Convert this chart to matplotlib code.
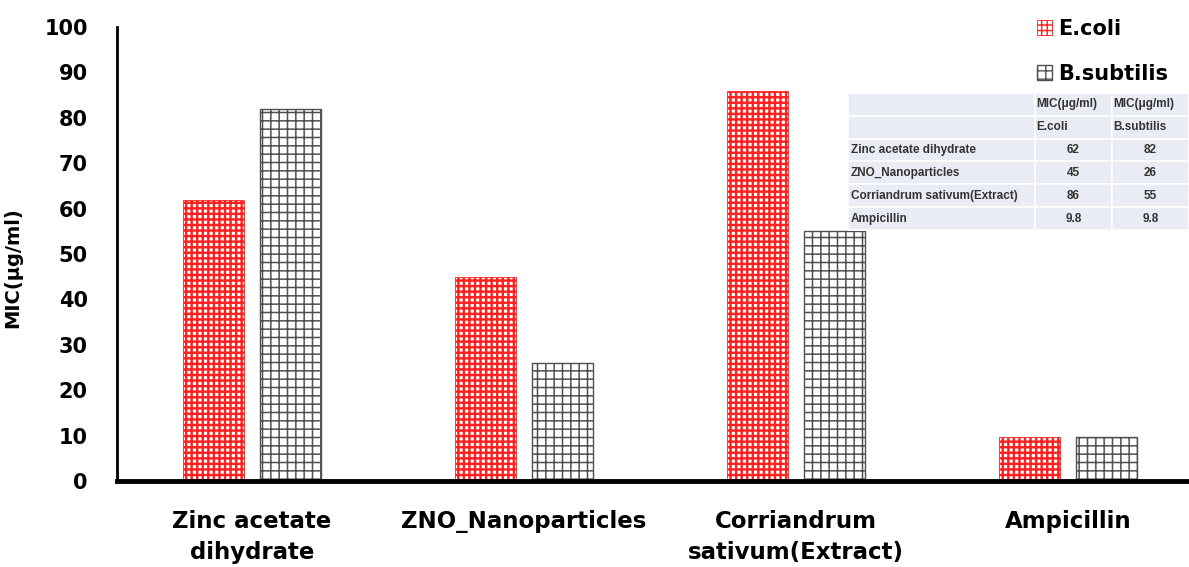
import numpy as np
import matplotlib
matplotlib.use("Agg")
import matplotlib.pyplot as plt

categories = ["Zinc acetate\ndihydrate", "ZNO_Nanoparticles", "Corriandrum\nsativum(Extract)", "Ampicillin"]
table_rows = ["Zinc acetate dihydrate", "ZNO_Nanoparticles", "Corriandrum sativum(Extract)", "Ampicillin"]
ecoli = [62, 45, 86, 9.8]
bsubtilis = [82, 26, 55, 9.8]
ecoli_txt = ["62", "45", "86", "9.8"]
bsub_txt = ["82", "26", "55", "9.8"]
yticks = list(range(0, 101, 10))

plt.rcParams['font.family'] = ['DejaVu Sans']

fig = plt.figure(figsize=(11.89, 5.67), dpi=100)
ax = fig.add_axes([117/1189, 1-481/567, 1-117/1189, 454/567])

x = np.arange(len(categories))
w = 0.225
b1 = ax.bar(x - 0.142, ecoli, w, facecolor='white', edgecolor='#ff2020', hatch='+++', linewidth=0.6, label='E.coli')
b2 = ax.bar(x + 0.143, bsubtilis, w, facecolor='white', edgecolor='#505050', hatch='++', linewidth=1.0, label='B.subtilis')
for p in b1:
    if hasattr(p, 'set_hatch_linewidth'):
        p.set_hatch_linewidth(1.7)
for p in b2:
    if hasattr(p, 'set_hatch_linewidth'):
        p.set_hatch_linewidth(1.1)

ax.set_xlim(-0.496, 3.445)
ax.set_ylim(0, 100)
ax.set_yticks(yticks)
ax.set_yticklabels([str(t) for t in yticks], fontsize=15, fontweight='bold')
ax.set_xticks(x)
ax.set_xticklabels(categories, fontsize=16.5, fontweight='bold', linespacing=1.45)
ax.tick_params(axis='y', length=0, pad=21)
ax.tick_params(axis='x', length=0, pad=21)
ax.set_ylabel("MIC(μg/ml)", fontsize=14, fontweight='bold')
ax.yaxis.set_label_coords(-0.088, 0.47)
for s in ['top', 'right']:
    ax.spines[s].set_visible(False)
ax.spines['left'].set_linewidth(2)
ax.spines['bottom'].set_linewidth(3.5)

leg = fig.legend(handles=[b1, b2], labels=['E.coli', 'B.subtilis'], loc='upper left',
                 bbox_to_anchor=(1018/1189, 1-0/567), frameon=False,
                 prop={'size': 15, 'weight': 'bold'}, handlelength=0.75, handleheight=0.75,
                 handletextpad=0.3, labelspacing=1.2)

# small data table
tax = fig.add_axes([848/1189, 1-230/567, 341/1189, 137/567])
tax.axis('off')
cells = [["", "MIC(μg/ml)", "MIC(μg/ml)"], ["", "E.coli", "B.subtilis"]]
for i in range(len(table_rows)):
    cells.append([table_rows[i], ecoli_txt[i], bsub_txt[i]])
tbl = tax.table(cellText=cells, bbox=[0, 0, 1, 1], colWidths=[187, 77, 77])
tbl.auto_set_font_size(False)
for (r, c), cell in tbl.get_celld().items():
    cell.set_facecolor('#e9ecf4')
    cell.set_edgecolor('white')
    cell.set_linewidth(1.2)
    t = cell.get_text()
    t.set_fontsize(8.5)
    t.set_fontfamily(['Liberation Sans Narrow', 'Liberation Sans'])
    t.set_fontweight('bold')
    t.set_color('#333333')
    cell.PAD = 0.015
    if c == 0 or r < 2:
        t.set_ha('left')
    else:
        t.set_ha('center')

fig.savefig("out.png", dpi=100)
